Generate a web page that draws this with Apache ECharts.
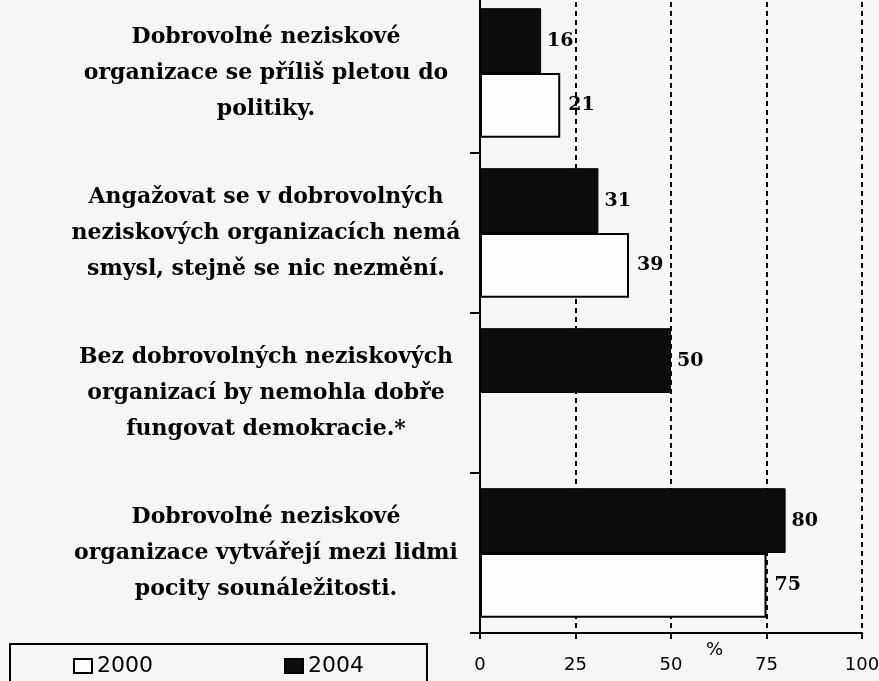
<!DOCTYPE html>
<html>
<head>
<meta charset="utf-8">
<script src="https://cdn.jsdelivr.net/npm/echarts@6/dist/echarts.min.js"></script>
<style>
  html, body { margin: 0; padding: 0; background: #f6f6f4; overflow: hidden; }
  /* graf začíná nad horním okrajem (horní skupina je v originále oříznutá) */
  #chart { width: 879px; height: 688px; position: relative; top: -7px; }
</style>
</head>
<body>
<div id="chart"></div>
<script>
// otázky (shora dolů)
var categories = [
  'Dobrovolné neziskové\norganizace se příliš pletou do\npolitiky.',
  'Angažovat se v dobrovolných\nneziskových organizacích nemá\nsmysl, stejně se nic nezmění.',
  'Bez dobrovolných neziskových\norganizací by nemohla dobře\nfungovat demokracie.*',
  'Dobrovolné neziskové\norganizace vytvářejí mezi lidmi\npocity sounáležitosti.'
];
var values2004 = [16, 31, 50, 80];
var values2000 = [21, 39, null, 75];
var xTicks = [0, 25, 50, 75, 100];

var myChart = echarts.init(document.getElementById('chart'));

var option = {
  backgroundColor: '#f6f6f4',
  animation: false,
  grid: {
    left: 480,
    right: 17,
    top: 0,
    bottom: 48,
    containLabel: false,
    outerBoundsMode: 'none'
  },
  legend: {
    data: [
      { name: '2000', icon: 'rect' },
      { name: '2004', icon: 'rect' }
    ],
    left: 10,
    top: 651,
    padding: [11, 63, 30, 63],
    itemGap: 131,
    itemWidth: 18,
    itemHeight: 14,
    borderColor: '#000',
    borderWidth: 2,
    textStyle: { fontFamily: 'DejaVu Sans', fontSize: 22, color: '#000' }
  },
  xAxis: {
    type: 'value',
    min: 0,
    max: 100,
    interval: 25,
    axisLine: { show: true, lineStyle: { color: '#000', width: 2 } },
    axisTick: { show: true, length: 6, lineStyle: { color: '#000', width: 2 } },
    axisLabel: {
      margin: 23,
      color: '#000',
      fontFamily: 'DejaVu Sans',
      fontSize: 18,
      formatter: function (v) { return xTicks.indexOf(v) >= 0 ? String(v) : ''; }
    },
    splitLine: { show: true, lineStyle: { color: '#000', width: 2, type: [5, 4] } }
  },
  yAxis: {
    type: 'category',
    inverse: true,
    data: categories,
    axisLine: { show: true, lineStyle: { color: '#000', width: 2 } },
    axisTick: { show: true, length: 10, lineStyle: { color: '#000', width: 2 } },
    axisLabel: {
      align: 'center',
      margin: 214,
      color: '#000',
      fontFamily: 'DejaVu Serif',
      fontWeight: 'bold',
      fontSize: 22,
      lineHeight: 36
    }
  },
  series: [
    {
      name: '2004',
      type: 'bar',
      data: values2004,
      barGap: '0%',
      barCategoryGap: '19%',
      itemStyle: { color: '#0c0c0c', borderColor: '#000', borderWidth: 1 },
      label: {
        show: true, position: 'right', distance: 6, color: '#000',
        fontFamily: 'DejaVu Serif', fontWeight: 'bold', fontSize: 19
      }
    },
    {
      name: '2000',
      type: 'bar',
      data: values2000,
      barGap: '0%',
      barCategoryGap: '19%',
      itemStyle: { color: '#fdfdfd', borderColor: '#000', borderWidth: 2 },
      label: {
        show: true, position: 'right', distance: 8, color: '#000',
        fontFamily: 'DejaVu Serif', fontWeight: 'bold', fontSize: 19
      }
    }
  ],
  graphic: [
    {
      type: 'text',
      left: 706,
      top: 648,
      style: { text: '%', fill: '#000', font: '18px "DejaVu Sans"' }
    }
  ]
};

myChart.setOption(option);
</script>
</body>
</html>
